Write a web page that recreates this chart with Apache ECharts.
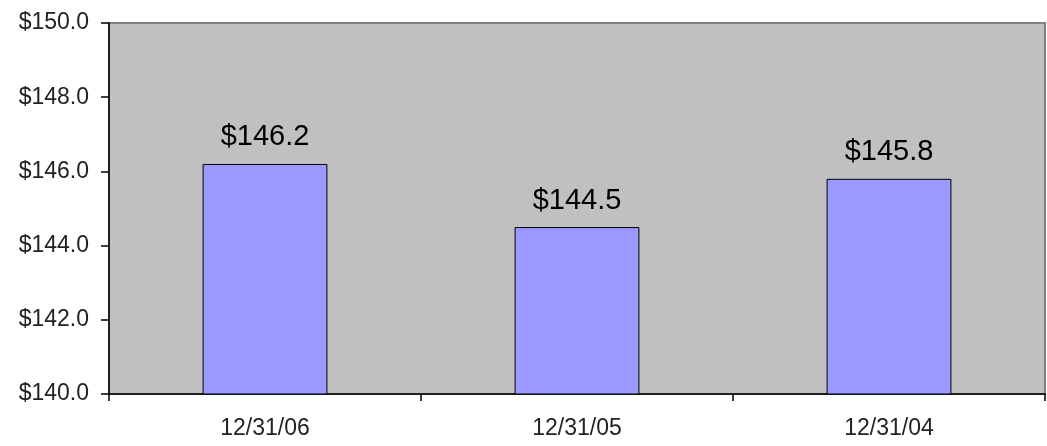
<!DOCTYPE html>
<html>
<head>
<meta charset="utf-8">
<script src="https://cdn.jsdelivr.net/npm/echarts@6/dist/echarts.min.js"></script>
<style>
  html, body { margin: 0; padding: 0; background: #fff; }
  #chart { width: 1047px; height: 446px; }
</style>
</head>
<body>
<div id="chart"></div>
<script>
// Year-end values
const categories = ['12/31/06', '12/31/05', '12/31/04'];
const values = [146.2, 144.5, 145.8];

const yMin = 140;
const yMax = 150;
const yStep = 2;

const fmt = v => '$' + Number(v).toFixed(1);

const chart = echarts.init(document.getElementById('chart'), null, { renderer: 'canvas' });
chart.setOption({
  animation: false,
  grid: {
    left: 109, right: 2, top: 23, bottom: 52,
    show: true,
    backgroundColor: '#c0c0c0',
    borderColor: '#808080',
    borderWidth: 2
  },
  xAxis: {
    type: 'category',
    data: categories,
    axisLine: { show: true, lineStyle: { color: '#000', width: 1.5 } },
    axisTick: { show: true, length: 7, lineStyle: { color: '#000', width: 1.5 } },
    axisLabel: {
      margin: 23,
      color: '#222',
      fontFamily: 'Liberation Sans, Arial, sans-serif',
      fontSize: 23
    },
    splitLine: { show: false }
  },
  yAxis: {
    type: 'value',
    min: yMin,
    max: yMax,
    interval: yStep,
    axisLine: { show: true, lineStyle: { color: '#000', width: 1.5 } },
    axisTick: { show: true, length: 8, lineStyle: { color: '#000', width: 1.5 } },
    axisLabel: {
      margin: 20,
      color: '#222',
      fontFamily: 'Liberation Sans, Arial, sans-serif',
      fontSize: 23,
      formatter: v => fmt(v)
    },
    splitLine: { show: false }
  },
  series: [{
    type: 'bar',
    data: values,
    barWidth: '40%',
    itemStyle: { color: '#9999ff', borderColor: '#000', borderWidth: 1 },
    label: {
      show: true,
      position: 'top',
      distance: 12,
      color: '#000',
      fontFamily: 'Liberation Sans, Arial, sans-serif',
      fontSize: 29,
      formatter: p => fmt(p.value)
    }
  }]
});
</script>
</body>
</html>
